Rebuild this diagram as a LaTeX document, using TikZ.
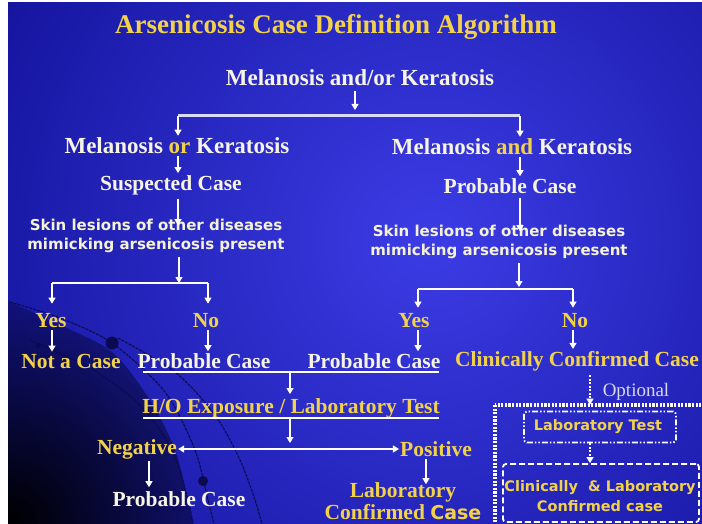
\documentclass[tikz,border=0pt]{standalone}
\usepackage{fontspec}
\setmainfont{Liberation Serif}
\newfontfamily\lesionfont{DejaVu Sans}
\usetikzlibrary{arrows.meta,fadings}

\definecolor{bgin}{HTML}{3C3CE6}
\definecolor{bgout}{HTML}{12129A}
\definecolor{gold}{HTML}{F2D24A}
\definecolor{cream}{HTML}{F6F4E4}
\definecolor{lesioncream}{HTML}{F4F2D8}
\definecolor{optgray}{HTML}{D8D8F0}
\definecolor{barlav}{HTML}{D8DCF6}
\definecolor{arcdark}{HTML}{0A0A50}

\tikzfading[name=cornerfade, inner color=transparent!0, outer color=transparent!100]

\tikzset{
  titlef/.style={text=gold, font=\fontsize{27}{29}\selectfont\bfseries, inner sep=0pt},
  head/.style={text=cream, font=\fontsize{23}{25}\selectfont\bfseries, inner sep=0pt},
  subw/.style={text=cream, font=\fontsize{21.5}{23}\selectfont\bfseries, inner sep=0pt},
  suby/.style={text=gold, font=\fontsize{21.5}{23}\selectfont\bfseries, inner sep=0pt},
  lesion/.style={text=lesioncream, font=\lesionfont\fontsize{15}{18.5}\selectfont\bfseries, align=center, inner sep=0pt},
  boxtext/.style={text=gold, font=\lesionfont\fontsize{14.5}{20}\selectfont\bfseries, align=center, inner sep=0pt},
  opt/.style={text=optgray, font=\fontsize{19}{21}\selectfont, inner sep=0pt},
  arr/.style={draw=white, line width=1.1pt, -{Triangle[width=7pt,length=6pt]}, shorten >=2pt, shorten <=2pt},
  optarr/.style={draw=white, line width=1.2pt, dash pattern=on 2pt off 1.5pt, -{Triangle[width=7pt,length=6pt]}},
  twoway/.style={draw=white, line width=1.1pt, {Triangle[width=7pt,length=6pt]}-{Triangle[width=7pt,length=6pt]}},
  bar/.style={draw=white, line width=2.2pt},
  topbar/.style={draw=barlav, line width=3pt},
  arcline/.style={draw=arcdark, line width=1.1pt, dash pattern=on 3pt off 1pt},
  outerbox/.style={draw=white, line width=4pt, dash pattern=on 2.2pt off 1.4pt},
  labbox/.style={draw=white, line width=1.8pt, rounded corners=3pt, dash pattern=on 6pt off 2pt on 1.5pt off 2pt on 1.5pt off 2pt,
                 minimum width=152pt, minimum height=31pt},
  ccbox/.style={draw=white, line width=1.8pt, rounded corners=3pt, dash pattern=on 6pt off 3pt,
                 minimum width=196pt, minimum height=58pt}
}

\begin{document}
\begin{tikzpicture}[x=1pt,y=-1pt]
\useasboundingbox (0,0) rectangle (702,524);
\fill[white] (0,0) rectangle (702,524);

% slide background with its lower-left arcs
\begin{scope}
  \clip (8,3) rectangle (702,524);
  \shade[inner color=bgin, outer color=bgout] (430,240) circle (520pt);
  \begin{scope}
    \clip (8,300) -- plot[smooth] coordinates {(10,302) (60,325) (112,352) (150,400) (175,450) (188,500) (193,524)} -- (8,524) -- cycle;
    \fill[arcdark, opacity=0.45] (0,290) rectangle (260,530);
    \fill[black, path fading=cornerfade] (8,524) circle (230pt);
  \end{scope}
  \draw[arcline] plot[smooth] coordinates {(10,302) (60,318) (112,343) (165,392) (195,450) (208,500) (214,524)};
  \draw[arcline] plot[smooth] coordinates {(30,340) (90,368) (140,405) (172,450) (188,500) (193,524)};
  \draw[arcline] plot[smooth] coordinates {(118,338) (175,372) (215,415) (240,460) (255,500) (262,524)};
  \fill[arcdark] (112,343) circle (6.5pt);
  \fill[arcdark] (203,481) circle (5pt);
  \fill[arcdark] (38,346) circle (2.5pt);
\end{scope}

% text nodes
\node[titlef] (title) at (336,27) {Arsenicosis Case Definition Algorithm};
\node[head] (mak) at (360,78) {Melanosis and/or Keratosis};
\node[head] (mok) at (177,146) {Melanosis \textcolor{gold}{or} Keratosis};
\node[head] (mk) at (512,147) {Melanosis \textcolor{gold}{and} Keratosis};
\node[subw] (susp) at (171,185) {Suspected Case};
\node[subw] (probT) at (510,186) {Probable Case};
\node[lesion] (skinL) at (156,236) {Skin lesions of other diseases\\mimicking arsenicosis present};
\node[lesion] (skinR) at (499,242) {Skin lesions of other diseases\\mimicking arsenicosis present};
\node[suby] (yesL) at (51,321) {Yes};
\node[suby] (noL) at (206,321) {No};
\node[suby] (yesR) at (414,321) {Yes};
\node[suby] (noR) at (575,321) {No};
\node[suby] (notcase) at (71,361) {Not a Case};
\node[subw] (probL) at (204,361) {Probable Case};
\node[subw] (probR) at (374,361) {Probable Case};
\node[suby] (ccc) at (577,361) {Clinically Confirmed Case};
\node[suby] (hoe) at (291,408) {H/O Exposure / Laboratory Test};
\node[suby] (neg) at (137,449) {Negative};
\node[suby] (pos) at (436,449) {Positive};
\node[subw] (probB) at (179,499) {Probable Case};
\node[suby, align=center, font=\fontsize{21.5}{22}\selectfont\bfseries] (labconf) at (403,501)
  {Laboratory\\Confirmed {\lesionfont\fontsize{19}{22}\selectfont Case}};
\node[opt] (optional) at (636,392) {Optional};

% optional branch boxes
\draw[outerbox] (495,405) rectangle (712,545);
\node[labbox] (labtest) at (600,427) {};
\node[boxtext] at (598,427) {Laboratory Test};
\node[ccbox] (clc) at (601,493) {};
\node[boxtext] at (600,496) {Clinically\ \ \& Laboratory\\Confirmed case};

% first split
\coordinate (splitL) at (178,116);
\coordinate (splitR) at (520,116);
\coordinate (splitM) at (355,116);
\draw[topbar] (splitL) -- (splitR);
\draw[arr, shorten >=6pt, shorten <=5pt] (mak.south -| splitM) -- (splitM);
\draw[arr, shorten <=0pt] (splitL) -- (mok.north -| splitL);
\draw[arr, shorten <=0pt] (splitR) -- (mk.north -| splitR);

% left column
\draw[arr] (mok.south -| splitL) -- (susp.north -| splitL);
\draw[arr, shorten >=-6pt, shorten <=4pt] (susp.south -| splitL) -- (skinL.north -| splitL);
\coordinate (bLa) at (52,283);
\coordinate (bLb) at (208,283);
\coordinate (bLm) at (179,283);
\draw[arr, shorten >=0pt, shorten <=4pt] (skinL.south -| bLm) -- (bLm);
\draw[bar] (bLa) -- (bLb);
\draw[arr, shorten <=0pt, shorten >=10pt] (bLa) -- (yesL.north -| bLa);
\draw[arr, shorten <=0pt, shorten >=10pt] (bLb) -- (noL.north -| bLb);
\draw[arr] (yesL.south -| bLa) -- (notcase.north -| bLa);
\draw[arr] (noL.south -| bLb) -- (probL.north -| bLb);

% right column
\draw[arr] (mk.south -| splitR) -- (probT.north -| splitR);
\draw[arr, shorten >=-6pt, shorten <=4pt] (probT.south -| splitR) -- (skinR.north -| splitR);
\coordinate (bRa) at (418,289);
\coordinate (bRb) at (573,289);
\coordinate (bRm) at (519,289);
\draw[arr, shorten >=2pt, shorten <=4pt] (skinR.south -| bRm) -- (bRm);
\draw[bar] (bRa) -- (bRb);
\draw[arr, shorten <=0pt, shorten >=6pt] (bRa) -- (yesR.north -| bRa);
\draw[arr, shorten <=0pt, shorten >=6pt] (bRb) -- (noR.north -| bRb);
\draw[arr] (yesR.south -| bRa) -- (probR.north -| bRa);
\draw[arr] (noR.south -| bRb) -- (ccc.north -| bRb);

% joining the probable cases
\coordinate (jA) at (143,372);
\coordinate (jB) at (439,372);
\coordinate (jM) at (290,372);
\draw[bar] (jA) -- (jB);
\draw[arr, shorten <=0pt, shorten >=4pt] (jM) -- (hoe.north -| jM);
\coordinate (uA) at (143,418);
\coordinate (uB) at (439,418);
\coordinate (uM) at (290,418);
\draw[bar] (uA) -- (uB);
\draw[arr, shorten <=0pt, shorten >=6pt] (uM) -- (uM |- neg.east);
\draw[twoway, shorten <=1pt, shorten >=1pt] (neg.east) -- (pos.west);
\coordinate (negx) at (149,0);
\coordinate (posx) at (426,0);
\draw[arr, shorten >=4pt] (neg.south -| negx) -- (probB.north -| negx);
\draw[arr, shorten >=-2pt] (pos.south -| posx) -- (labconf.north -| posx);

% optional confirmation
\coordinate (optx) at (590,0);
\draw[optarr, shorten <=4pt, shorten >=6pt] (ccc.south -| optx) -- (labtest.north -| optx);
\draw[optarr] (labtest.south -| optx) -- (clc.north -| optx);
\end{tikzpicture}
\end{document}
